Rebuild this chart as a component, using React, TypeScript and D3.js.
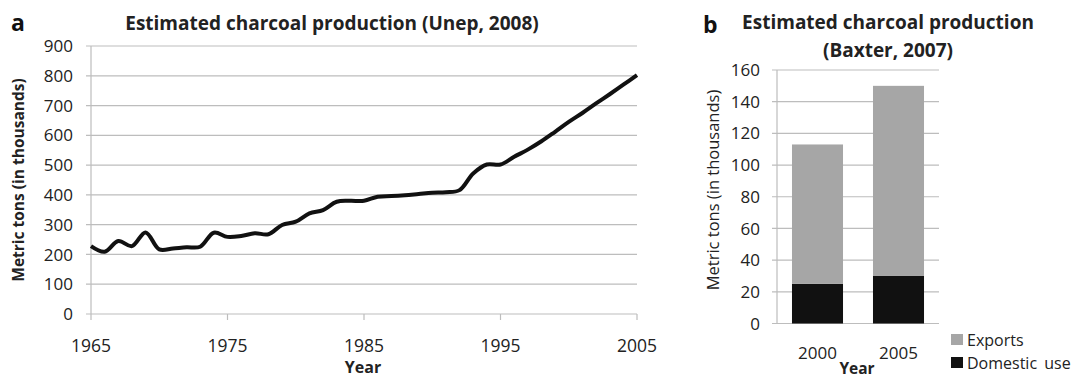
import * as d3 from 'd3'
import { useEffect, useRef } from 'react'

// panel a: Unep 2008, yearly estimates
const years = d3.range(1965, 2006)
const production = [
  228, 209, 245, 228, 274, 217, 220, 224, 226, 273,
  259, 262, 271, 268, 299, 310, 338, 349, 377, 380,
  380, 394, 396, 399, 403, 407, 409, 416, 472, 502,
  502, 528, 552, 580, 612, 645, 675, 707, 738, 770, 802,
]
const yearTicks = [1965, 1975, 1985, 1995, 2005]
const prodTicks = [0, 100, 200, 300, 400, 500, 600, 700, 800, 900]

// panel b: Baxter 2007
const barYears = ['2000', '2005']
const domestic = [25, 30]
const exports_ = [88, 120]
const barTicks = [0, 20, 40, 60, 80, 100, 120, 140, 160]
const seriesNames = ['Exports', 'Domestic use']

const FONT = "'Open Sans', sans-serif"

const App = () => {
  const ref = useRef<SVGSVGElement>(null)

  useEffect(() => {
    const svg = d3.select(ref.current)
    svg.selectAll('*').remove()
    svg.style('font-family', FONT)

    // ---------- panel a ----------
    const x = d3.scaleLinear().domain([1965, 2005]).range([91, 637])
    const y = d3.scaleLinear().domain([0, 900]).range([314, 46])

    const ga = svg.append('g')
    ga.selectAll('line.grid')
      .data(prodTicks)
      .join('line')
      .attr('x1', 86)
      .attr('x2', 637)
      .attr('y1', (d) => y(d))
      .attr('y2', (d) => y(d))
      .attr('stroke', '#bdbdbd')
      .attr('stroke-width', 1.2)
    ga.append('line')
      .attr('x1', 91).attr('x2', 91)
      .attr('y1', y(900)).attr('y2', y(0))
      .attr('stroke', '#bdbdbd').attr('stroke-width', 1.2)
    ga.selectAll('line.xt')
      .data(yearTicks)
      .join('line')
      .attr('x1', (d) => x(d))
      .attr('x2', (d) => x(d))
      .attr('y1', y(0))
      .attr('y2', y(0) + 6)
      .attr('stroke', '#bdbdbd')
      .attr('stroke-width', 1.2)

    ga.selectAll('text.yl')
      .data(prodTicks)
      .join('text')
      .attr('x', 73)
      .attr('y', (d) => y(d))
      .attr('dy', '0.36em')
      .attr('text-anchor', 'end')
      .attr('font-size', 17)
      .attr('fill', '#222')
      .text((d) => d)
    ga.selectAll('text.xl')
      .data(yearTicks)
      .join('text')
      .attr('x', (d) => x(d))
      .attr('y', 352)
      .attr('text-anchor', 'middle')
      .attr('font-size', 17.5)
      .attr('fill', '#222')
      .text((d) => d)

    const line = d3
      .line<number>()
      .x((d, i) => x(years[i]))
      .y((d) => y(d))
      .curve(d3.curveCatmullRom.alpha(0.5))
    ga.append('path')
      .datum(production)
      .attr('d', line)
      .attr('fill', 'none')
      .attr('stroke', '#111')
      .attr('stroke-width', 4)
      .attr('stroke-linejoin', 'round')

    ga.append('text')
      .attr('x', 332).attr('y', 30)
      .attr('text-anchor', 'middle')
      .attr('font-size', 19).attr('font-weight', 'bold')
      .attr('fill', '#222')
      .text('Estimated charcoal production (Unep, 2008)')
    ga.append('text')
      .attr('x', 11).attr('y', 31)
      .attr('font-size', 23).attr('font-weight', 'bold')
      .attr('fill', '#111')
      .text('a')
    ga.append('text')
      .attr('x', 363).attr('y', 373)
      .attr('text-anchor', 'middle')
      .attr('font-size', 16).attr('font-weight', 'bold')
      .attr('fill', '#222')
      .text('Year')
    ga.append('text')
      .attr('transform', 'translate(24,180) rotate(-90)')
      .attr('text-anchor', 'middle')
      .attr('font-size', 15.5).attr('font-weight', 'bold')
      .attr('fill', '#222')
      .text('Metric tons (in thousands)')

    // ---------- panel b ----------
    const xb = d3.scaleBand().domain(barYears).range([777, 939]).paddingInner(0.37).paddingOuter(0.185)
    const yb = d3.scaleLinear().domain([0, 160]).range([323.5, 70])

    const gb = svg.append('g')
    gb.selectAll('line.grid')
      .data(barTicks)
      .join('line')
      .attr('x1', 772)
      .attr('x2', 939)
      .attr('y1', (d) => yb(d))
      .attr('y2', (d) => yb(d))
      .attr('stroke', '#bdbdbd')
      .attr('stroke-width', 1.2)
    gb.append('line')
      .attr('x1', 777).attr('x2', 777)
      .attr('y1', yb(160)).attr('y2', yb(0))
      .attr('stroke', '#bdbdbd').attr('stroke-width', 1.2)

    const stacked = d3
      .stack<number>()
      .keys(['domestic', 'exports'])
      .value((i, key) => (key === 'domestic' ? domestic[i] : exports_[i]))(d3.range(barYears.length))
    const colors = ['#111111', '#a6a6a6']
    stacked.forEach((layer, li) => {
      gb.selectAll('rect.s' + li)
        .data(layer)
        .join('rect')
        .attr('x', (d, i) => xb(barYears[i]) as number)
        .attr('width', xb.bandwidth())
        .attr('y', (d) => yb(d[1]))
        .attr('height', (d) => yb(d[0]) - yb(d[1]))
        .attr('fill', colors[li])
    })

    gb.selectAll('text.yl')
      .data(barTicks)
      .join('text')
      .attr('x', 760)
      .attr('y', (d) => yb(d))
      .attr('dy', '0.36em')
      .attr('text-anchor', 'end')
      .attr('font-size', 17)
      .attr('fill', '#222')
      .text((d) => d)
    gb.selectAll('text.xl')
      .data(barYears)
      .join('text')
      .attr('x', (d) => (xb(d) as number) + xb.bandwidth() / 2)
      .attr('y', 359)
      .attr('text-anchor', 'middle')
      .attr('font-size', 17)
      .attr('fill', '#222')
      .text((d) => d)

    gb.append('text')
      .attr('x', 857).attr('y', 374)
      .attr('text-anchor', 'middle')
      .attr('font-size', 15.5).attr('font-weight', 'bold')
      .attr('fill', '#222')
      .text('Year')
    gb.append('text')
      .attr('transform', 'translate(719,190) rotate(-90)')
      .attr('text-anchor', 'middle')
      .attr('font-size', 16.5)
      .attr('fill', '#222')
      .text('Metric tons (in thousands)')
    gb.append('text')
      .attr('x', 703).attr('y', 33)
      .attr('font-size', 23).attr('font-weight', 'bold')
      .attr('fill', '#111')
      .text('b')
    gb.append('text')
      .attr('x', 888).attr('y', 29)
      .attr('text-anchor', 'middle')
      .attr('font-size', 19).attr('font-weight', 'bold')
      .attr('fill', '#222')
      .text('Estimated charcoal production')
    gb.append('text')
      .attr('x', 888).attr('y', 57)
      .attr('text-anchor', 'middle')
      .attr('font-size', 19).attr('font-weight', 'bold')
      .attr('fill', '#222')
      .text('(Baxter, 2007)')

    // legend
    const lg = gb.selectAll('g.lg')
      .data(seriesNames)
      .join('g')
      .attr('transform', (d, i) => `translate(951, ${334 + i * 23})`)
    lg.append('rect')
      .attr('width', 12)
      .attr('height', 11)
      .attr('fill', (d, i) => colors[1 - i])
    lg.append('text')
      .attr('x', 16)
      .attr('y', 6)
      .attr('dy', '0.36em')
      .attr('font-size', 16)
      .attr('word-spacing', 3)
      .attr('fill', '#222')
      .text((d) => d)
  }, [])

  return (
    <div style={{ position: 'absolute', left: 0, top: 0 }}>
      <svg ref={ref} width={1073} height={378} style={{ display: 'block', background: '#fff' }}></svg>
    </div>
  )
}
export default App
